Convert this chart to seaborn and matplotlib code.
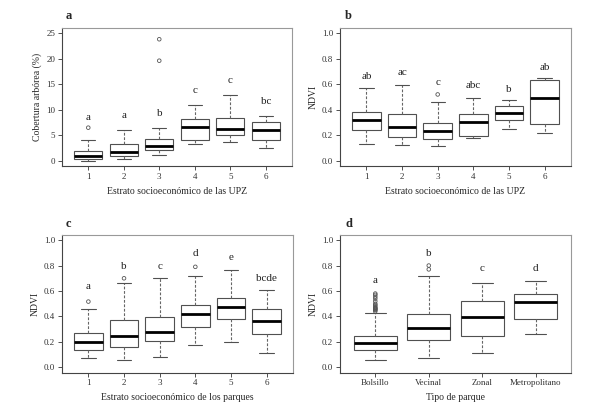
import numpy as np
import pandas as pd
import matplotlib
matplotlib.use("Agg")
import matplotlib.pyplot as plt
import seaborn as sns


# Panel a - cobertura arbórea por estrato (UPZ)
a_cats = ["1", "2", "3", "4", "5", "6"]
a_lo = [0.05, 0.3, 1.17, 3.3, 3.75, 2.45]
a_q1 = [0.45, 1.0, 2.2, 4.15, 5.05, 4.1]
a_med = [0.9, 1.7, 3.0, 6.6, 6.2, 6.1]
a_q3 = [1.95, 3.25, 4.35, 8.25, 8.4, 7.7]
a_hi = [4.0, 6.1, 6.4, 10.9, 12.9, 8.8]
a_out_cat = ["1", "3", "3"]
a_out_val = [6.5, 19.6, 23.8]
a_letters = ["a", "a", "b", "c", "c", "bc"]
a_letter_y = [8.4, 8.9, 9.2, 13.8, 15.7, 11.6]

# Panel b - NDVI por estrato (UPZ)
b_cats = ["1", "2", "3", "4", "5", "6"]
b_lo = [0.135, 0.127, 0.12, 0.18, 0.252, 0.218]
b_q1 = [0.245, 0.187, 0.17, 0.197, 0.317, 0.288]
b_med = [0.317, 0.265, 0.234, 0.304, 0.371, 0.49]
b_q3 = [0.385, 0.364, 0.293, 0.366, 0.431, 0.63]
b_hi = [0.57, 0.595, 0.46, 0.496, 0.48, 0.647]
b_out_cat = ["3"]
b_out_val = [0.52]
b_letters = ["ab", "ac", "c", "abc", "b", "ab"]
b_letter_y = [0.66, 0.69, 0.61, 0.587, 0.56, 0.73]

# Panel c - NDVI por estrato (parques)
c_cats = ["1", "2", "3", "4", "5", "6"]
c_lo = [0.073, 0.06, 0.078, 0.178, 0.20, 0.112]
c_q1 = [0.138, 0.164, 0.204, 0.316, 0.384, 0.264]
c_med = [0.198, 0.25, 0.282, 0.418, 0.478, 0.368]
c_q3 = [0.272, 0.371, 0.397, 0.493, 0.543, 0.46]
c_hi = [0.462, 0.66, 0.70, 0.718, 0.768, 0.608]
c_out_cat = ["1", "2", "4"]
c_out_val = [0.517, 0.70, 0.79]
c_letters = ["a", "b", "c", "d", "e", "bcde"]
c_letter_y = [0.632, 0.79, 0.79, 0.893, 0.86, 0.70]

# Panel d - NDVI por tipo de parque
d_cats = ["Bolsillo", "Vecinal", "Zonal", "Metropolitano"]
d_lo = [0.06, 0.073, 0.112, 0.261]
d_q1 = [0.138, 0.217, 0.25, 0.379]
d_med = [0.19, 0.308, 0.394, 0.512]
d_q3 = [0.245, 0.418, 0.52, 0.58]
d_hi = [0.43, 0.718, 0.666, 0.68]
d_out_cat = ["Bolsillo"] * 14 + ["Vecinal"] * 2
d_out_val = [0.44, 0.45, 0.455, 0.46, 0.465, 0.47, 0.48, 0.49, 0.50,
             0.52, 0.54, 0.555, 0.57, 0.58, 0.77, 0.80]
d_letters = ["a", "b", "c", "d"]
d_letter_y = [0.684, 0.893, 0.775, 0.775]


BOX = "#505050"
WHISK = "#666666"


def draw_panel(ax, cats, lo, q1, med, q3, hi, out_cat, out_val,
               letters, letter_y, ylim, yticks, ylabel, xlabel, fmt):
    # five-number summary per group; whis=inf so whiskers go to min / max
    df = pd.DataFrame({
        "cat": np.repeat(cats, 5),
        "val": np.column_stack([lo, q1, med, q3, hi]).ravel()})
    sns.boxplot(data=df, x="cat", y="val", order=cats, whis=np.inf,
                width=0.8, color="white", linecolor=BOX, linewidth=0.8,
                showfliers=False, ax=ax,
                medianprops=dict(color="black", linewidth=2.0),
                whiskerprops=dict(color=WHISK, linestyle=(0, (2.5, 1.5)),
                                  linewidth=0.8),
                capprops=dict(color=BOX, linewidth=0.8))
    odf = pd.DataFrame({"cat": out_cat, "val": out_val})
    sns.stripplot(data=odf, x="cat", y="val", order=cats, jitter=False,
                  size=2.6, color="none", edgecolor="#555555", linewidth=0.6,
                  ax=ax)
    for i, (lab, yy) in enumerate(zip(letters, letter_y)):
        ax.text(i, yy, lab, ha="center", va="center", fontsize=8,
                color="#222222")
    n = len(cats)
    pad = 0.04 * n
    ax.set_xlim(-0.5 - pad, n - 0.5 + pad)
    ax.set_ylim(*ylim)
    ax.set_yticks(yticks)
    ax.set_yticklabels([fmt.format(t) for t in yticks])
    ax.set_xlabel(xlabel, fontsize=7, labelpad=4)
    ax.set_ylabel(ylabel, fontsize=7, labelpad=3)
    ax.tick_params(direction="out", length=3, width=0.6, labelsize=6.5,
                   pad=2, colors="#333333")
    for side, sp in ax.spines.items():
        sp.set_visible(True)
        sp.set_linewidth(0.8)
        sp.set_color("#444444" if side in ("left", "bottom") else "#999999")


sns.set_theme(style="ticks")
plt.rcParams["font.family"] = ["Liberation Serif", "DejaVu Serif"]

fig = plt.figure(figsize=(5.89, 4.19), dpi=100)
W, H = 589, 419


def rect(l, t, r, b):
    return [l / W, 1 - b / H, (r - l) / W, (b - t) / H]


ax_a = fig.add_axes(rect(62, 28, 292, 166))
ax_b = fig.add_axes(rect(340, 28, 571, 166))
ax_c = fig.add_axes(rect(62, 235, 293, 372.5))
ax_d = fig.add_axes(rect(340, 235, 571, 372.5))

ndvi_ticks = [0.0, 0.2, 0.4, 0.6, 0.8, 1.0]

draw_panel(ax_a, a_cats, a_lo, a_q1, a_med, a_q3, a_hi, a_out_cat, a_out_val,
           a_letters, a_letter_y, (-1.0, 26.0), [0, 5, 10, 15, 20, 25],
           "Cobertura arbórea (%)", "Estrato socioeconómico de las UPZ",
           "{:.0f}")
draw_panel(ax_b, b_cats, b_lo, b_q1, b_med, b_q3, b_hi, b_out_cat, b_out_val,
           b_letters, b_letter_y, (-0.04, 1.04), ndvi_ticks,
           "NDVI", "Estrato socioeconómico de las UPZ", "{:.1f}")
draw_panel(ax_c, c_cats, c_lo, c_q1, c_med, c_q3, c_hi, c_out_cat, c_out_val,
           c_letters, c_letter_y, (-0.04, 1.04), ndvi_ticks,
           "NDVI", "Estrato socioeconómico de los parques", "{:.1f}")
draw_panel(ax_d, d_cats, d_lo, d_q1, d_med, d_q3, d_hi, d_out_cat, d_out_val,
           d_letters, d_letter_y, (-0.04, 1.04), ndvi_ticks,
           "NDVI", "Tipo de parque", "{:.1f}")

for lab, (x, y) in zip("abcd", [(66, 16), (345, 16), (66, 224), (345, 224)]):
    fig.text(x / W, 1 - y / H, lab, fontsize=9, fontweight="bold",
             ha="left", va="center")

fig.savefig("out.png", dpi=100)
